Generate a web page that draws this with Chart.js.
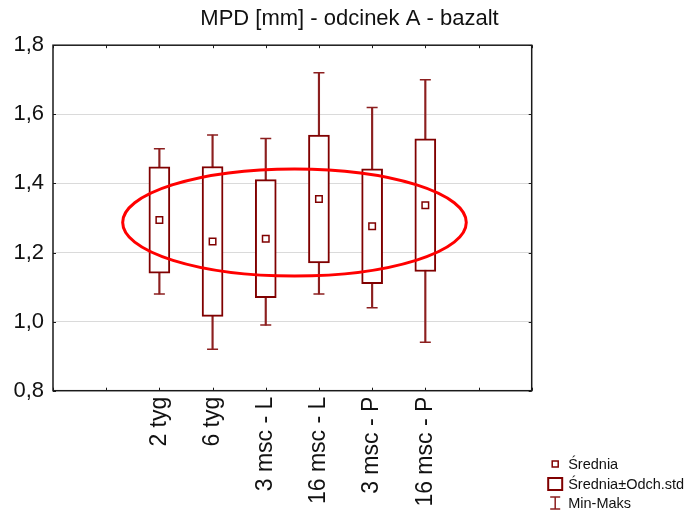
<!DOCTYPE html>
<html><head><meta charset="utf-8">
<script src="https://cdn.jsdelivr.net/npm/chart.js@4"></script>
<style>html,body{margin:0;padding:0;background:#fff}canvas{display:block}</style>
</head><body>
<canvas id="c" width="690" height="516"></canvas>
<script>
const categories = ['2 tyg', '6 tyg', '3 msc - L', '16 msc - L', '3 msc - P', '16 msc - P'];
const means = [1.294, 1.232, 1.240, 1.355, 1.276, 1.337];
const stdDevs = [0.154, 0.217, 0.171, 0.185, 0.166, 0.192];
const minimums = [1.08, 0.92, 0.99, 1.08, 1.04, 0.94];
const maximums = [1.50, 1.54, 1.53, 1.72, 1.62, 1.70];
const yTickValues = [0.8, 1.0, 1.2, 1.4, 1.6, 1.8];
const yTickLabels = ['0,8', '1,0', '1,2', '1,4', '1,6', '1,8'];
const xTickValues = [-1, 0, 1, 2, 3, 4, 5, 6, 7, 8];
const legendLabels = ['Średnia', 'Średnia±Odch.std', 'Min-Maks'];
const titleText = 'MPD [mm] - odcinek A - bazalt';
const highlight = { cx: 3.54, cy: 1.287, rx: 3.23, ry: 0.155 };

const FONT = "'Liberation Sans', Arial, sans-serif";
const MAROON = '#800000';
const WHISK = '#8c1f1f';

const xs = categories.map((c, i) => i + 1);
const boxData = xs.map((x, i) => ({ x, y: [means[i] - stdDevs[i], means[i] + stdDevs[i]] }));
const whiskerData = xs.map((x, i) => ({ x, y: [minimums[i], maximums[i]] }));
const meanData = xs.map((x, i) => ({ x, y: means[i] }));
const capData = xs.flatMap((x, i) => [{ x, y: minimums[i] }, { x, y: maximums[i] }]);

const framePlugin = {
  id: 'frame',
  beforeDatasetsDraw(chart) {
    const { ctx, chartArea: a, scales: { x, y } } = chart;
    ctx.save();
    ctx.strokeStyle = '#1a1a1a';
    ctx.lineWidth = 1.5;
    ctx.strokeRect(a.left, a.top, a.right - a.left, a.bottom - a.top);
    ctx.lineWidth = 1;
    ctx.beginPath();
    xTickValues.forEach(v => {
      const px = Math.round(x.getPixelForValue(v)) + 0.5;
      ctx.moveTo(px, a.bottom); ctx.lineTo(px, a.bottom - 3);
      ctx.moveTo(px, a.top); ctx.lineTo(px, a.top + 3);
    });
    yTickValues.forEach(v => {
      const py = Math.round(y.getPixelForValue(v)) + 0.5;
      ctx.moveTo(a.left, py); ctx.lineTo(a.left + 3, py);
      ctx.moveTo(a.right, py); ctx.lineTo(a.right - 3, py);
    });
    ctx.stroke();
    ctx.restore();
  }
};

const ellipsePlugin = {
  id: 'ellipse',
  afterDatasetsDraw(chart) {
    const { ctx, scales: { x, y } } = chart;
    const cx = x.getPixelForValue(highlight.cx);
    const cy = y.getPixelForValue(highlight.cy);
    const rx = Math.abs(x.getPixelForValue(highlight.cx + highlight.rx) - cx);
    const ry = Math.abs(y.getPixelForValue(highlight.cy + highlight.ry) - cy);
    ctx.save();
    ctx.strokeStyle = '#ff0000';
    ctx.lineWidth = 3;
    ctx.beginPath();
    ctx.ellipse(cx, cy, rx, ry, 0, 0, Math.PI * 2);
    ctx.stroke();
    ctx.restore();
  }
};

const legendPlugin = {
  id: 'customLegend',
  afterDraw(chart) {
    const { ctx, chartArea: a } = chart;
    const ix = a.right + 23.5;  // icon centre
    const tx = a.right + 36.5;  // text start
    const rows = [464, 484, 503];
    ctx.save();
    ctx.fillStyle = '#fff';
    ctx.strokeStyle = MAROON;
    ctx.lineWidth = 1.5;
    ctx.beginPath(); ctx.rect(ix - 3, rows[0] - 3, 6, 6); ctx.fill(); ctx.stroke();
    ctx.lineWidth = 2;
    ctx.beginPath(); ctx.rect(ix - 7, rows[1] - 6, 14, 12); ctx.fill(); ctx.stroke();
    ctx.strokeStyle = WHISK;
    ctx.lineWidth = 1.5;
    ctx.beginPath();
    ctx.moveTo(ix, rows[2] - 6); ctx.lineTo(ix, rows[2] + 6);
    ctx.moveTo(ix - 5, rows[2] - 6); ctx.lineTo(ix + 5, rows[2] - 6);
    ctx.moveTo(ix - 5, rows[2] + 6); ctx.lineTo(ix + 5, rows[2] + 6);
    ctx.stroke();
    ctx.fillStyle = '#111';
    ctx.font = '14.5px ' + FONT;
    ctx.textBaseline = 'middle';
    ctx.textAlign = 'left';
    legendLabels.forEach((t, i) => ctx.fillText(t, tx, rows[i] + 0.5));
    ctx.restore();
  }
};

new Chart(document.getElementById('c'), {
  type: 'bar',
  data: {
    datasets: [
      { type: 'scatter', data: meanData, order: 0, pointStyle: 'rect', pointRadius: 4.6,
        pointBorderWidth: 1.5, pointBackgroundColor: '#fff', pointBorderColor: MAROON, showLine: false },
      { type: 'bar', data: boxData, order: 1, grouped: false, barThickness: 21,
        backgroundColor: '#fff', borderColor: MAROON, borderWidth: 2, borderSkipped: false },
      { type: 'scatter', data: capData, order: 2, pointStyle: 'line', pointRadius: 5.5,
        pointBorderWidth: 1.5, pointBorderColor: WHISK, showLine: false },
      { type: 'bar', data: whiskerData, order: 3, grouped: false, barThickness: 1.5,
        backgroundColor: WHISK, borderWidth: 0 }
    ]
  },
  options: {
    responsive: false,
    animation: false,
    layout: { padding: { left: 9, right: 0, top: 0, bottom: 0 } },
    plugins: {
      legend: { display: false },
      tooltip: { enabled: false },
      title: {
        display: true, text: titleText, color: '#111',
        font: { family: FONT, size: 22, weight: 'normal' },
        padding: { top: 5.5, bottom: 13.3 }
      }
    },
    scales: {
      x: {
        type: 'linear', min: -1, max: 8, offset: false,
        afterBuildTicks: s => { s.ticks = xTickValues.map(v => ({ value: v })); },
        afterFit: s => { s.height = 125.3; },
        grid: { display: false, drawTicks: false },
        border: { display: false },
        ticks: {
          autoSkip: false, minRotation: 90, maxRotation: 90, padding: 6,
          color: '#111', font: { family: FONT, size: 23 },
          callback: v => categories[v - 1] ?? ''
        }
      },
      y: {
        type: 'linear', min: 0.8, max: 1.8,
        afterBuildTicks: s => { s.ticks = yTickValues.map(v => ({ value: v })); },
        afterFit: s => { s.width = 44; },
        grid: {
          drawTicks: false, lineWidth: 1,
          color: c => (c.tick && (c.tick.value <= 0.8 || c.tick.value >= 1.8)) ? 'rgba(0,0,0,0)' : '#dadada'
        },
        border: { display: false },
        ticks: {
          padding: 9, color: '#111', font: { family: FONT, size: 22 },
          callback: (v, i) => yTickLabels[i]
        }
      },
      yr: {
        type: 'linear', position: 'right', display: true,
        afterFit: s => { s.width = 158.3; },
        ticks: { display: false },
        grid: { display: false, drawTicks: false },
        border: { display: false }
      }
    }
  },
  plugins: [framePlugin, ellipsePlugin, legendPlugin]
});
</script>
</body></html>
